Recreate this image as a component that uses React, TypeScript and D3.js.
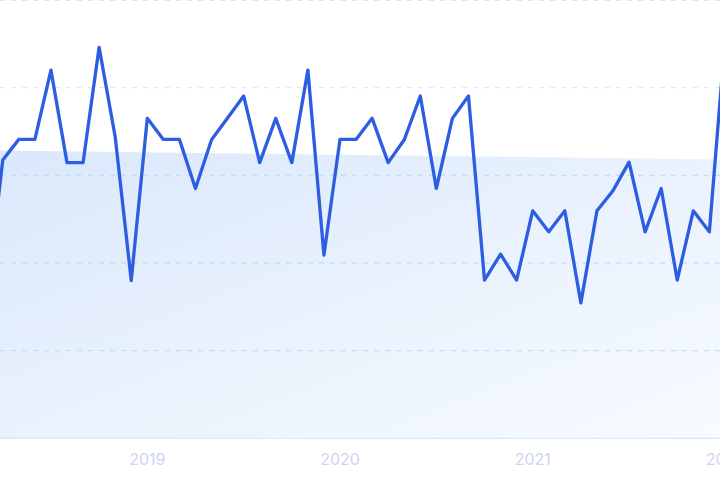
import React, { useEffect, useRef } from 'react';
import * as d3 from 'd3';

// months counted from Jan 2019 (index 0), first point is Mar 2018
const startMonth = -10;
const values = [
  32.2, 63.5, 68.2, 68.2, 84.0, 62.9, 62.9, 89.2, 68.8, 36.0,
  73.0, 68.2, 68.2, 57.0, 68.1, 73.1, 78.1, 62.9, 73.0, 62.9, 84.0, 41.8,
  68.2, 68.2, 73.0, 62.9, 68.1, 78.1, 57.0, 73.0, 78.1, 36.1, 42.0, 36.1,
  51.9, 47.1, 51.9, 30.9, 51.9, 56.5, 63.0, 47.1, 57.0, 36.1, 51.9, 47.1,
  92.0
];
const trendValues = [65.7, 63.6];
const yearTicks = [0, 12, 24, 36];
const yearLabels = ['2019', '2020', '2021', '2022'];
const gridTicks = [20, 40, 60, 80, 100];

const App: React.FC = () => {
  const svgRef = useRef<SVGSVGElement>(null);

  useEffect(() => {
    if (!svgRef.current) return;
    const svg = d3.select(svgRef.current);
    svg.selectAll('*').remove();

    const width = 720;
    const height = 480;

    const x = d3.scaleLinear().domain([0, 24]).range([147.3, 532.7]);
    const y = d3.scaleLinear().domain([0, 100]).range([438.3, 0]);

    const points = values.map((v, i) => ({ m: startMonth + i, v }));
    const firstM = startMonth;
    const lastM = startMonth + values.length - 1;
    const trend = [
      { m: firstM, v: trendValues[0] },
      { m: lastM, v: trendValues[1] }
    ];

    const defs = svg.append('defs');
    const grad = defs.append('linearGradient')
      .attr('id', 'areaGrad')
      .attr('x1', '0').attr('y1', '0')
      .attr('x2', '1').attr('y2', '1');
    grad.append('stop').attr('offset', '0%').attr('stop-color', '#dae8fb');
    grad.append('stop').attr('offset', '100%').attr('stop-color', '#f8fbff');

    const area = d3.area<{ m: number; v: number }>()
      .x(d => x(d.m))
      .y0(y(0))
      .y1(d => y(d.v));

    defs.append('clipPath')
      .attr('id', 'areaClip')
      .append('path')
      .attr('d', area(trend) as string);

    // trend area
    svg.append('path')
      .attr('d', area(trend) as string)
      .attr('fill', 'url(#areaGrad)');

    // grid lines (lavender outside the area, light cyan inside it)
    const grid = svg.append('g');
    grid.selectAll('line.out')
      .data(gridTicks)
      .enter()
      .append('line')
      .attr('class', 'out')
      .attr('x1', 0).attr('x2', width)
      .attr('y1', d => Math.max(0.5, y(d)))
      .attr('y2', d => Math.max(0.5, y(d)))
      .attr('stroke', '#e0e0f4')
      .attr('stroke-width', 1)
      .attr('stroke-dasharray', '5,6');

    grid.append('g')
      .attr('clip-path', 'url(#areaClip)')
      .selectAll('line')
      .data(gridTicks)
      .enter()
      .append('line')
      .attr('x1', 0).attr('x2', width)
      .attr('y1', d => y(d))
      .attr('y2', d => y(d))
      .attr('stroke', '#b3e0fb')
      .attr('stroke-width', 1)
      .attr('stroke-dasharray', '5,6');

    // baseline
    svg.append('line')
      .attr('x1', 0).attr('x2', width)
      .attr('y1', y(0)).attr('y2', y(0))
      .attr('stroke', '#d0e2fa')
      .attr('stroke-width', 1);

    // year labels
    svg.append('g')
      .selectAll('text')
      .data(yearTicks)
      .enter()
      .append('text')
      .attr('x', d => x(d))
      .attr('y', 465)
      .attr('text-anchor', 'middle')
      .attr('font-family', 'Inter, "Noto Sans", sans-serif')
      .attr('font-size', '16px')
      .attr('fill', '#cdd5f3')
      .text((d, i) => yearLabels[i]);

    // main line
    const line = d3.line<{ m: number; v: number }>()
      .x(d => x(d.m))
      .y(d => y(d.v));

    svg.append('path')
      .datum(points)
      .attr('d', line)
      .attr('fill', 'none')
      .attr('stroke', '#2c5de2')
      .attr('stroke-width', 3.3)
      .attr('stroke-linejoin', 'round');

    svg.attr('width', width).attr('height', height);
  }, []);

  return (
    <svg
      ref={svgRef}
      width={720}
      height={480}
      style={{ position: 'fixed', top: 0, left: 0, display: 'block', background: '#fff' }}
    />
  );
};

export default App;
